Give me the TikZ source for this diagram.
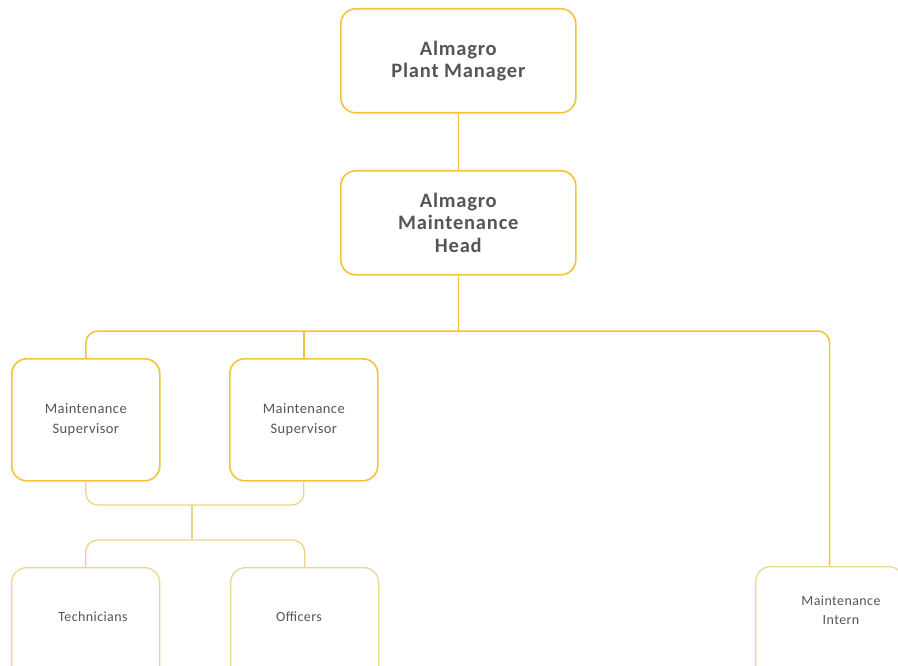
\documentclass[tikz,border=0pt]{standalone}
\usepackage{fontspec}
\setmainfont{Carlito}
\newfontfamily\widefont[LetterSpace=4]{Carlito}
\newfontfamily\smallwidefont[LetterSpace=3]{Carlito}
\definecolor{gold}{RGB}{242,196,58}
\definecolor{paleg}{RGB}{236,212,135}
\definecolor{paleb}{RGB}{234,214,150}
\definecolor{txt}{RGB}{85,85,85}
\begin{document}
\begin{tikzpicture}[x=1pt,y=-1pt,
  topbox/.style={draw=gold,line width=1.6pt,rounded corners=15pt,
    minimum width=235pt,minimum height=104pt,anchor=north west,
    align=center,text=txt,font=\widefont\fontsize{20.5}{22.5}\selectfont\bfseries},
  midbox/.style={draw=gold,line width=1.6pt,rounded corners=15pt,
    minimum width=148pt,minimum height=122pt,anchor=north west,
    align=center,text=txt,font=\smallwidefont\fontsize{14.5}{20}\selectfont},
  lowbox/.style={draw=paleb,line width=1.3pt,rounded corners=15pt,
    minimum width=148pt,minimum height=130pt,anchor=north west},
  lowtext/.style={align=center,text=txt,font=\smallwidefont\fontsize{14}{19}\selectfont},
  conn/.style={draw=gold,line width=1.5pt,rounded corners=12pt},
  conn2/.style={draw=paleg,line width=1.3pt,rounded corners=12pt}]
\useasboundingbox (0,0) rectangle (898,666);
\clip (0,0) rectangle (898,666);

% management boxes
\node[topbox] (pm) at (340,8) {Almagro\\Plant Manager};
\node[topbox] (head) at (340,170) {Almagro\\Maintenance\\Head};

% supervisors
\node[midbox] (sup1) at (11,358) {Maintenance\\Supervisor};
\node[midbox] (sup2) at (229,358) {Maintenance\\Supervisor};

% staff boxes
\node[lowbox] (tech) at (11,567) {};
\node[lowbox] (off) at (230,567) {};
\node[lowbox] (intern) at (755,566) {};
\node[lowtext] (techt) at (93,617) {Technicians};
\node[lowtext] (offt) at (299,617) {Officers};
\node[lowtext] (internt) at (841,610) {Maintenance\\Intern};

% branching points
\coordinate (bus) at (454,331);
\coordinate (join) at (192,505);
\coordinate (split) at (192,540);

% connectors
\draw[conn] (pm.south) -- (head.north);
\draw[conn] (head.south) -- (head.south |- bus);
\draw[conn] (sup1.north) -- (sup1.north |- bus) -- (intern.north |- bus) -- (intern.north);
\draw[conn] (sup2.north) -- (sup2.north |- bus);
\draw[conn2] (sup1.south) -- (sup1.south |- join) -- (sup2.south |- join) -- (sup2.south);
\draw[conn2] (join) -- (split);
\draw[conn2] (tech.north) -- (tech.north |- split) -- (off.north |- split) -- (off.north);
\end{tikzpicture}
\end{document}
